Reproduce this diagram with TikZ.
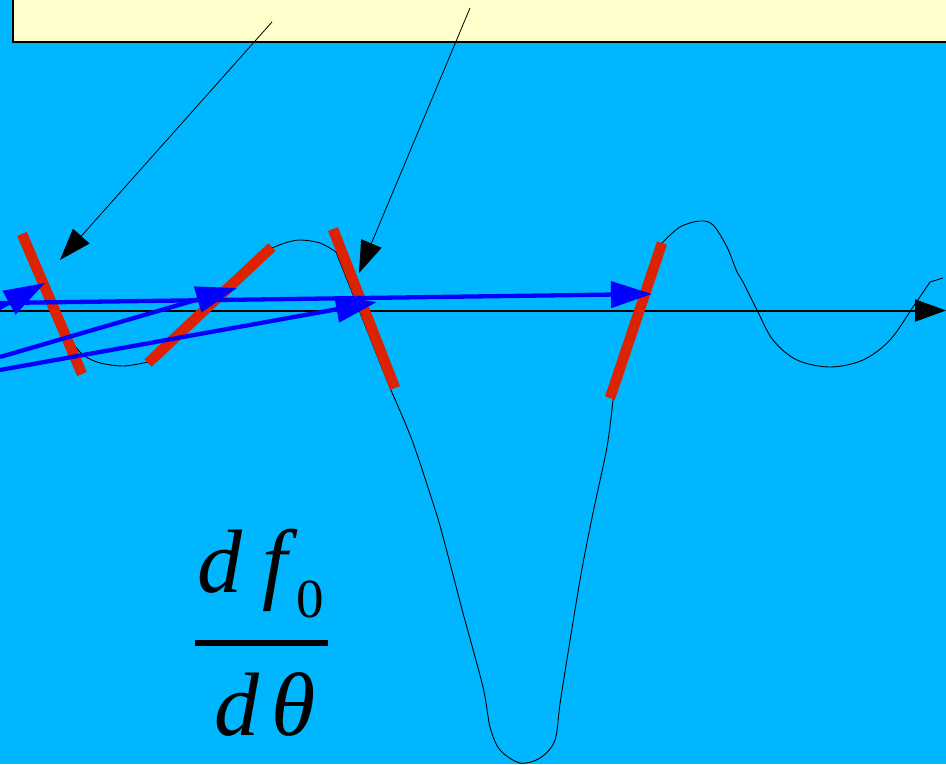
\documentclass[tikz,border=0pt]{standalone}
\usepackage{fontspec}
\usetikzlibrary{arrows.meta}
\newfontfamily\tmsfont{Liberation Serif}
\definecolor{bgblue}{RGB}{0,183,255}
\definecolor{boxyellow}{RGB}{255,255,204}
\definecolor{platered}{RGB}{221,34,0}
\tikzset{
  plate/.style={draw=platered,line width=10.5pt,line cap=butt},
  ray/.style={draw=blue,line width=4.3pt,-{Triangle[length=41pt,width=26pt]}},
  pointer/.style={draw=black,line width=0.8pt,-{Triangle[length=32pt,width=22pt]}},
  curve/.style={draw=black,line width=0.9pt},
  glyph/.style={inner sep=0pt,outer sep=0pt,anchor=base west,font=\tmsfont\itshape\fontsize{90}{90}\selectfont},
}
\begin{document}
\begin{tikzpicture}[x=1pt,y=-1pt]
\useasboundingbox (0,0) rectangle (946,764);
\fill[bgblue] (0,0) rectangle (946,764);
\clip (0,0) rectangle (946,764);
% top box
\draw[fill=boxyellow,line width=1.2pt] (13,-10) rectangle (960,42);
% curve
\draw[curve] plot[smooth,tension=0.55] coordinates{(50,300)(65,330)(80,352)(97,362)(123,366)(148,362)} -- (272,248);
\draw[curve] plot[smooth,tension=0.55] coordinates{(272,248)(285,243)(300,240)(320,243)(336,252)} -- (390,388);
\draw[curve] plot[smooth,tension=0.5] coordinates{(390,388)(412,440)(433,503)(442,533)(463,613)(483,687)(490,727)(500,750)(520,763)(540,758)(555,740)(561,697)(580,580)(593,513)(607,447)(613,400)} -- (662,243);
\draw[curve] plot[smooth,tension=0.55] coordinates{(662,243)(680,227)(700,221)(713,225)(727,247)(737,272)(743,282)(757,310)(773,340)(797,360)(830,367)(863,360)(890,340)(913,307)(930,282)} -- (943,278);
% axis
\coordinate (ax0) at (0,310.5);
\coordinate (ax1) at (946,310.5);
\draw[black,line width=2pt,-{Triangle[length=31pt,width=22pt]}] (ax0) -- (ax1);
% plates
\coordinate (p1a) at (22,234); \coordinate (p1b) at (82,374);
\coordinate (p2a) at (148,363); \coordinate (p2b) at (272,247);
\coordinate (p3a) at (333,229); \coordinate (p3b) at (395,388);
\coordinate (p4a) at (610,398); \coordinate (p4b) at (662,243);
\draw[plate] (p1a) -- (p1b);
\draw[plate] (p2a) -- (p2b);
\draw[plate] (p3a) -- (p3b);
\draw[plate] (p4a) -- (p4b);
% rays
\coordinate (r0a) at (-30,324); \coordinate (r0b) at (45,283);
\coordinate (r1a) at (0,303); \coordinate (r1b) at (652,294);
\coordinate (r2a) at (0,357); \coordinate (r2b) at (237,288);
\coordinate (r3a) at (0,370); \coordinate (r3b) at (377,302);
\draw[ray] (r0a) -- (r0b);
\draw[ray] (r1a) -- (r1b);
\draw[ray] (r2a) -- (r2b);
\draw[ray] (r3a) -- (r3b);
% pointers
\coordinate (k1a) at (272,22); \coordinate (k1b) at (60,260);
\coordinate (k2a) at (470,8); \coordinate (k2b) at (359,273);
\draw[pointer] (k1a) -- (k1b);
\draw[pointer] (k2a) -- (k2b);
% fraction
\node[glyph] (nd) at (197,592) {d};
\node[glyph] (nf) at (262,592) {f};
\node[glyph,font=\tmsfont\fontsize{55}{55}\selectfont] (n0) at (296,617) {0};
\coordinate (barA) at (195,643); \coordinate (barB) at (328,643);
\draw[black,line width=5.5pt] (barA) -- (barB);
\node[glyph] (dd) at (214,735) {d};
\node[glyph] (dt) at (271,735) {θ};
\end{tikzpicture}
\end{document}
